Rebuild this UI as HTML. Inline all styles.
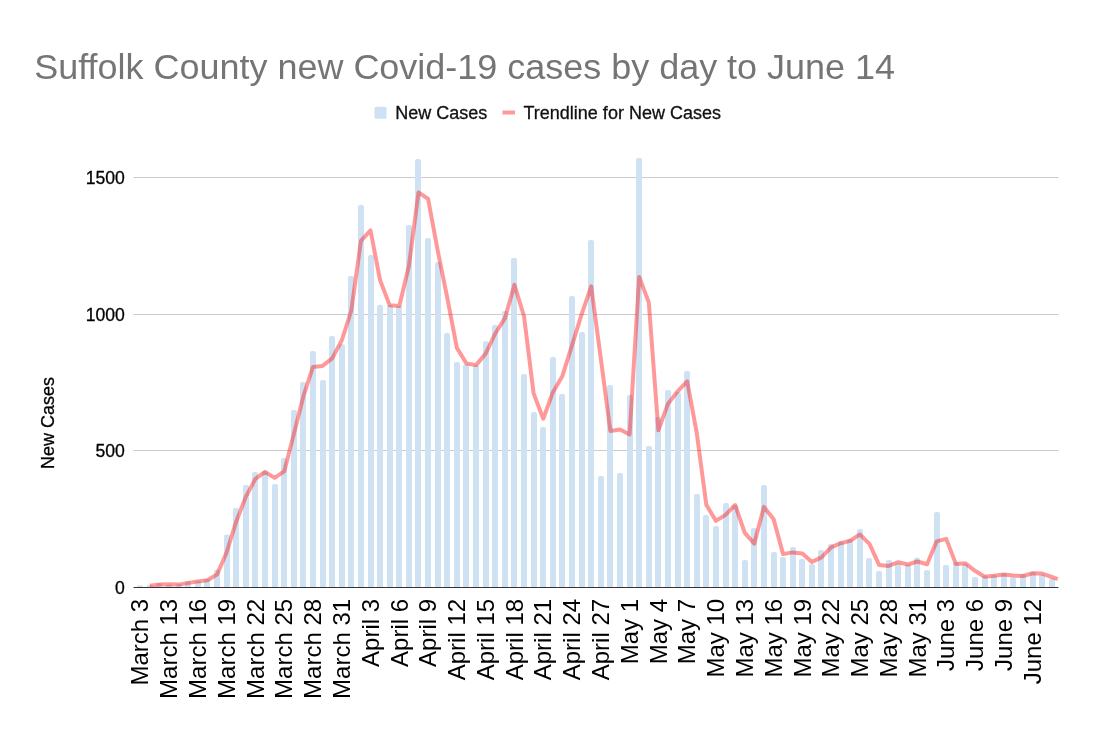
<!DOCTYPE html><html><head><meta charset="utf-8"><title>Chart</title><style>
html,body{margin:0;padding:0;background:#fff;}svg{display:block;will-change:transform;}text{font-family:"Liberation Sans",sans-serif;}
</style></head><body>
<svg width="1095" height="735" viewBox="0 0 1095 735">
<text x="34.3" y="78.6" font-size="35.96" fill="#757575">Suffolk County new Covid-19 cases by day to June 14</text>
<rect x="374.5" y="106.8" width="12" height="12" rx="1.5" fill="#cfe2f3"/>
<text x="395.2" y="118.6" font-size="18" fill="#111111" stroke="#111111" stroke-width="0.3">New Cases</text>
<rect x="502.5" y="110.5" width="12.5" height="4" fill="#ff9999"/>
<text x="523.5" y="118.6" font-size="18" fill="#111111" stroke="#111111" stroke-width="0.3">Trendline for New Cases</text>
<line x1="133.5" x2="1058.5" y1="177.5" y2="177.5" stroke="#cccccc" stroke-width="1"/>
<line x1="133.5" x2="1058.5" y1="314.5" y2="314.5" stroke="#cccccc" stroke-width="1"/>
<line x1="133.5" x2="1058.5" y1="450.5" y2="450.5" stroke="#cccccc" stroke-width="1"/>
<text x="124.9" y="183.8" font-size="17.6" text-anchor="end" fill="#000000" stroke="#000000" stroke-width="0.3">1500</text>
<text x="124.9" y="320.8" font-size="17.6" text-anchor="end" fill="#000000" stroke="#000000" stroke-width="0.3">1000</text>
<text x="124.9" y="456.8" font-size="17.6" text-anchor="end" fill="#000000" stroke="#000000" stroke-width="0.3">500</text>
<text x="124.9" y="593.8" font-size="17.6" text-anchor="end" fill="#000000" stroke="#000000" stroke-width="0.3">0</text>
<text transform="translate(54.3,423.1) rotate(-90)" font-size="18" text-anchor="middle" fill="#000000" stroke="#000000" stroke-width="0.3">New Cases</text>
<g fill="#cfe2f3">
<rect x="137" y="585.6" width="6" height="1.4" rx="0.7" ry="0.7"/>
<rect x="147" y="585.1" width="6" height="1.9" rx="0.9" ry="0.9"/>
<rect x="156" y="583.2" width="6" height="3.8" rx="1.9" ry="1.9"/>
<rect x="166" y="584.4" width="6" height="2.6" rx="1.3" ry="1.3"/>
<rect x="176" y="584.0" width="6" height="3.0" rx="1.5" ry="1.5"/>
<rect x="185" y="581.2" width="6" height="5.8" rx="2.0" ry="2.0"/>
<rect x="185" y="585.0" width="6" height="2"/>
<rect x="195" y="580.8" width="6" height="6.2" rx="2.0" ry="2.0"/>
<rect x="195" y="585.0" width="6" height="2"/>
<rect x="204" y="578.8" width="6" height="8.2" rx="2.0" ry="2.0"/>
<rect x="204" y="585.0" width="6" height="2"/>
<rect x="214" y="569.6" width="6" height="17.4" rx="2.0" ry="2.0"/>
<rect x="214" y="585.0" width="6" height="2"/>
<rect x="224" y="534.6" width="6" height="52.4" rx="2.0" ry="2.0"/>
<rect x="224" y="585.0" width="6" height="2"/>
<rect x="233" y="508.0" width="6" height="79.0" rx="2.0" ry="2.0"/>
<rect x="233" y="585.0" width="6" height="2"/>
<rect x="243" y="485.0" width="6" height="102.0" rx="2.0" ry="2.0"/>
<rect x="243" y="585.0" width="6" height="2"/>
<rect x="252" y="472.0" width="6" height="115.0" rx="2.0" ry="2.0"/>
<rect x="252" y="585.0" width="6" height="2"/>
<rect x="262" y="471.0" width="6" height="116.0" rx="2.0" ry="2.0"/>
<rect x="262" y="585.0" width="6" height="2"/>
<rect x="272" y="484.0" width="6" height="103.0" rx="2.0" ry="2.0"/>
<rect x="272" y="585.0" width="6" height="2"/>
<rect x="281" y="458.0" width="6" height="129.0" rx="2.0" ry="2.0"/>
<rect x="281" y="585.0" width="6" height="2"/>
<rect x="291" y="410.0" width="6" height="177.0" rx="2.0" ry="2.0"/>
<rect x="291" y="585.0" width="6" height="2"/>
<rect x="300" y="382.0" width="6" height="205.0" rx="2.0" ry="2.0"/>
<rect x="300" y="585.0" width="6" height="2"/>
<rect x="310" y="351.0" width="6" height="236.0" rx="2.0" ry="2.0"/>
<rect x="310" y="585.0" width="6" height="2"/>
<rect x="320" y="380.0" width="6" height="207.0" rx="2.0" ry="2.0"/>
<rect x="320" y="585.0" width="6" height="2"/>
<rect x="329" y="336.0" width="6" height="251.0" rx="2.0" ry="2.0"/>
<rect x="329" y="585.0" width="6" height="2"/>
<rect x="339" y="344.2" width="6" height="242.8" rx="2.0" ry="2.0"/>
<rect x="339" y="585.0" width="6" height="2"/>
<rect x="348" y="276.0" width="6" height="311.0" rx="2.0" ry="2.0"/>
<rect x="348" y="585.0" width="6" height="2"/>
<rect x="358" y="205.0" width="6" height="382.0" rx="2.0" ry="2.0"/>
<rect x="358" y="585.0" width="6" height="2"/>
<rect x="368" y="255.0" width="6" height="332.0" rx="2.0" ry="2.0"/>
<rect x="368" y="585.0" width="6" height="2"/>
<rect x="377" y="304.8" width="6" height="282.2" rx="2.0" ry="2.0"/>
<rect x="377" y="585.0" width="6" height="2"/>
<rect x="387" y="305.1" width="6" height="281.9" rx="2.0" ry="2.0"/>
<rect x="387" y="585.0" width="6" height="2"/>
<rect x="396" y="306.1" width="6" height="280.9" rx="2.0" ry="2.0"/>
<rect x="396" y="585.0" width="6" height="2"/>
<rect x="406" y="225.0" width="6" height="362.0" rx="2.0" ry="2.0"/>
<rect x="406" y="585.0" width="6" height="2"/>
<rect x="415" y="159.0" width="6" height="428.0" rx="2.0" ry="2.0"/>
<rect x="415" y="585.0" width="6" height="2"/>
<rect x="425" y="238.0" width="6" height="349.0" rx="2.0" ry="2.0"/>
<rect x="425" y="585.0" width="6" height="2"/>
<rect x="435" y="262.0" width="6" height="325.0" rx="2.0" ry="2.0"/>
<rect x="435" y="585.0" width="6" height="2"/>
<rect x="444" y="333.0" width="6" height="254.0" rx="2.0" ry="2.0"/>
<rect x="444" y="585.0" width="6" height="2"/>
<rect x="454" y="362.0" width="6" height="225.0" rx="2.0" ry="2.0"/>
<rect x="454" y="585.0" width="6" height="2"/>
<rect x="463" y="364.2" width="6" height="222.8" rx="2.0" ry="2.0"/>
<rect x="463" y="585.0" width="6" height="2"/>
<rect x="473" y="365.2" width="6" height="221.8" rx="2.0" ry="2.0"/>
<rect x="473" y="585.0" width="6" height="2"/>
<rect x="483" y="341.2" width="6" height="245.8" rx="2.0" ry="2.0"/>
<rect x="483" y="585.0" width="6" height="2"/>
<rect x="492" y="325.0" width="6" height="262.0" rx="2.0" ry="2.0"/>
<rect x="492" y="585.0" width="6" height="2"/>
<rect x="502" y="311.0" width="6" height="276.0" rx="2.0" ry="2.0"/>
<rect x="502" y="585.0" width="6" height="2"/>
<rect x="511" y="258.0" width="6" height="329.0" rx="2.0" ry="2.0"/>
<rect x="511" y="585.0" width="6" height="2"/>
<rect x="521" y="374.0" width="6" height="213.0" rx="2.0" ry="2.0"/>
<rect x="521" y="585.0" width="6" height="2"/>
<rect x="531" y="412.0" width="6" height="175.0" rx="2.0" ry="2.0"/>
<rect x="531" y="585.0" width="6" height="2"/>
<rect x="540" y="427.0" width="6" height="160.0" rx="2.0" ry="2.0"/>
<rect x="540" y="585.0" width="6" height="2"/>
<rect x="550" y="357.0" width="6" height="230.0" rx="2.0" ry="2.0"/>
<rect x="550" y="585.0" width="6" height="2"/>
<rect x="559" y="394.0" width="6" height="193.0" rx="2.0" ry="2.0"/>
<rect x="559" y="585.0" width="6" height="2"/>
<rect x="569" y="296.0" width="6" height="291.0" rx="2.0" ry="2.0"/>
<rect x="569" y="585.0" width="6" height="2"/>
<rect x="579" y="332.0" width="6" height="255.0" rx="2.0" ry="2.0"/>
<rect x="579" y="585.0" width="6" height="2"/>
<rect x="588" y="240.0" width="6" height="347.0" rx="2.0" ry="2.0"/>
<rect x="588" y="585.0" width="6" height="2"/>
<rect x="598" y="476.0" width="6" height="111.0" rx="2.0" ry="2.0"/>
<rect x="598" y="585.0" width="6" height="2"/>
<rect x="607" y="385.0" width="6" height="202.0" rx="2.0" ry="2.0"/>
<rect x="607" y="585.0" width="6" height="2"/>
<rect x="617" y="473.0" width="6" height="114.0" rx="2.0" ry="2.0"/>
<rect x="617" y="585.0" width="6" height="2"/>
<rect x="627" y="395.0" width="6" height="192.0" rx="2.0" ry="2.0"/>
<rect x="627" y="585.0" width="6" height="2"/>
<rect x="636" y="158.0" width="6" height="429.0" rx="2.0" ry="2.0"/>
<rect x="636" y="585.0" width="6" height="2"/>
<rect x="646" y="446.0" width="6" height="141.0" rx="2.0" ry="2.0"/>
<rect x="646" y="585.0" width="6" height="2"/>
<rect x="655" y="417.0" width="6" height="170.0" rx="2.0" ry="2.0"/>
<rect x="655" y="585.0" width="6" height="2"/>
<rect x="665" y="390.0" width="6" height="197.0" rx="2.0" ry="2.0"/>
<rect x="665" y="585.0" width="6" height="2"/>
<rect x="675" y="392.0" width="6" height="195.0" rx="2.0" ry="2.0"/>
<rect x="675" y="585.0" width="6" height="2"/>
<rect x="684" y="371.0" width="6" height="216.0" rx="2.0" ry="2.0"/>
<rect x="684" y="585.0" width="6" height="2"/>
<rect x="694" y="494.0" width="6" height="93.0" rx="2.0" ry="2.0"/>
<rect x="694" y="585.0" width="6" height="2"/>
<rect x="703" y="515.0" width="6" height="72.0" rx="2.0" ry="2.0"/>
<rect x="703" y="585.0" width="6" height="2"/>
<rect x="713" y="526.0" width="6" height="61.0" rx="2.0" ry="2.0"/>
<rect x="713" y="585.0" width="6" height="2"/>
<rect x="723" y="503.0" width="6" height="84.0" rx="2.0" ry="2.0"/>
<rect x="723" y="585.0" width="6" height="2"/>
<rect x="732" y="505.0" width="6" height="82.0" rx="2.0" ry="2.0"/>
<rect x="732" y="585.0" width="6" height="2"/>
<rect x="742" y="560.0" width="6" height="27.0" rx="2.0" ry="2.0"/>
<rect x="742" y="585.0" width="6" height="2"/>
<rect x="751" y="528.0" width="6" height="59.0" rx="2.0" ry="2.0"/>
<rect x="751" y="585.0" width="6" height="2"/>
<rect x="761" y="485.0" width="6" height="102.0" rx="2.0" ry="2.0"/>
<rect x="761" y="585.0" width="6" height="2"/>
<rect x="771" y="552.0" width="6" height="35.0" rx="2.0" ry="2.0"/>
<rect x="771" y="585.0" width="6" height="2"/>
<rect x="780" y="557.0" width="6" height="30.0" rx="2.0" ry="2.0"/>
<rect x="780" y="585.0" width="6" height="2"/>
<rect x="790" y="547.0" width="6" height="40.0" rx="2.0" ry="2.0"/>
<rect x="790" y="585.0" width="6" height="2"/>
<rect x="799" y="559.0" width="6" height="28.0" rx="2.0" ry="2.0"/>
<rect x="799" y="585.0" width="6" height="2"/>
<rect x="809" y="564.0" width="6" height="23.0" rx="2.0" ry="2.0"/>
<rect x="809" y="585.0" width="6" height="2"/>
<rect x="818" y="550.0" width="6" height="37.0" rx="2.0" ry="2.0"/>
<rect x="818" y="585.0" width="6" height="2"/>
<rect x="828" y="544.0" width="6" height="43.0" rx="2.0" ry="2.0"/>
<rect x="828" y="585.0" width="6" height="2"/>
<rect x="838" y="541.6" width="6" height="45.4" rx="2.0" ry="2.0"/>
<rect x="838" y="585.0" width="6" height="2"/>
<rect x="847" y="539.1" width="6" height="47.9" rx="2.0" ry="2.0"/>
<rect x="847" y="585.0" width="6" height="2"/>
<rect x="857" y="529.0" width="6" height="58.0" rx="2.0" ry="2.0"/>
<rect x="857" y="585.0" width="6" height="2"/>
<rect x="866" y="558.0" width="6" height="29.0" rx="2.0" ry="2.0"/>
<rect x="866" y="585.0" width="6" height="2"/>
<rect x="876" y="571.0" width="6" height="16.0" rx="2.0" ry="2.0"/>
<rect x="876" y="585.0" width="6" height="2"/>
<rect x="886" y="560.0" width="6" height="27.0" rx="2.0" ry="2.0"/>
<rect x="886" y="585.0" width="6" height="2"/>
<rect x="895" y="563.6" width="6" height="23.4" rx="2.0" ry="2.0"/>
<rect x="895" y="585.0" width="6" height="2"/>
<rect x="905" y="564.6" width="6" height="22.4" rx="2.0" ry="2.0"/>
<rect x="905" y="585.0" width="6" height="2"/>
<rect x="914" y="557.6" width="6" height="29.4" rx="2.0" ry="2.0"/>
<rect x="914" y="585.0" width="6" height="2"/>
<rect x="924" y="570.0" width="6" height="17.0" rx="2.0" ry="2.0"/>
<rect x="924" y="585.0" width="6" height="2"/>
<rect x="934" y="512.0" width="6" height="75.0" rx="2.0" ry="2.0"/>
<rect x="934" y="585.0" width="6" height="2"/>
<rect x="943" y="565.0" width="6" height="22.0" rx="2.0" ry="2.0"/>
<rect x="943" y="585.0" width="6" height="2"/>
<rect x="953" y="562.0" width="6" height="25.0" rx="2.0" ry="2.0"/>
<rect x="953" y="585.0" width="6" height="2"/>
<rect x="962" y="563.8" width="6" height="23.2" rx="2.0" ry="2.0"/>
<rect x="962" y="585.0" width="6" height="2"/>
<rect x="972" y="577.0" width="6" height="10.0" rx="2.0" ry="2.0"/>
<rect x="972" y="585.0" width="6" height="2"/>
<rect x="982" y="575.6" width="6" height="11.4" rx="2.0" ry="2.0"/>
<rect x="982" y="585.0" width="6" height="2"/>
<rect x="991" y="574.9" width="6" height="12.1" rx="2.0" ry="2.0"/>
<rect x="991" y="585.0" width="6" height="2"/>
<rect x="1001" y="573.1" width="6" height="13.9" rx="2.0" ry="2.0"/>
<rect x="1001" y="585.0" width="6" height="2"/>
<rect x="1010" y="577.2" width="6" height="9.8" rx="2.0" ry="2.0"/>
<rect x="1010" y="585.0" width="6" height="2"/>
<rect x="1020" y="573.9" width="6" height="13.1" rx="2.0" ry="2.0"/>
<rect x="1020" y="585.0" width="6" height="2"/>
<rect x="1030" y="571.8" width="6" height="15.2" rx="2.0" ry="2.0"/>
<rect x="1030" y="585.0" width="6" height="2"/>
<rect x="1039" y="574.6" width="6" height="12.4" rx="2.0" ry="2.0"/>
<rect x="1039" y="585.0" width="6" height="2"/>
<rect x="1049" y="578.6" width="6" height="8.4" rx="2.0" ry="2.0"/>
<rect x="1049" y="585.0" width="6" height="2"/>
</g>
<line x1="133.5" x2="1058.5" y1="587.5" y2="587.5" stroke="#333333" stroke-width="1"/>
<path d="M149.83,585.75 L159.42,584.55 L169.02,584.20 L178.61,584.60 L188.21,583.00 L197.80,581.40 L207.40,580.20 L216.99,574.60 L226.59,552.50 L236.18,521.70 L245.78,496.90 L255.37,478.90 L264.97,471.90 L274.56,477.90 L284.16,471.40 L293.75,434.40 L303.35,396.40 L312.94,366.90 L322.54,365.90 L332.13,358.40 L341.73,340.50 L351.32,310.50 L360.92,240.90 L370.51,230.40 L380.11,280.30 L389.71,305.35 L399.30,306.00 L408.90,265.95 L418.49,192.40 L428.09,198.90 L437.68,250.40 L447.28,297.90 L456.87,347.90 L466.47,363.50 L476.06,365.10 L485.66,353.60 L495.25,333.50 L504.85,318.40 L514.44,284.90 L524.04,316.40 L533.63,393.40 L543.23,418.70 L552.82,392.40 L562.42,375.90 L572.01,345.40 L581.61,314.40 L591.20,286.40 L600.80,358.40 L610.39,430.90 L619.99,429.40 L629.59,434.40 L639.18,276.90 L648.78,302.40 L658.37,430.30 L667.97,403.90 L677.56,391.40 L687.16,381.30 L696.75,432.90 L706.35,504.90 L715.94,520.90 L725.54,514.90 L735.13,505.00 L744.73,532.90 L754.32,543.60 L763.92,506.90 L773.51,518.90 L783.11,554.10 L792.70,552.40 L802.30,553.40 L811.89,561.90 L821.49,557.40 L831.08,547.40 L840.68,543.20 L850.27,540.75 L859.87,534.45 L869.47,543.90 L879.06,564.90 L888.66,565.90 L898.25,562.20 L907.85,564.50 L917.44,561.50 L927.04,564.20 L936.63,541.40 L946.23,538.90 L955.82,563.90 L965.42,563.30 L975.01,570.80 L984.61,576.70 L994.20,575.65 L1003.80,574.40 L1013.39,575.55 L1022.99,575.95 L1032.58,573.25 L1042.18,573.60 L1051.77,577.00 L1057.77,579.13" fill="none" stroke="#ff0000" stroke-opacity="0.4" stroke-width="4" stroke-linejoin="round" stroke-linecap="butt"/>
<text transform="translate(148.43,598.9) rotate(-90)" font-size="24" text-anchor="end" fill="#000000">March 3</text>
<text transform="translate(177.22,598.9) rotate(-90)" font-size="24" text-anchor="end" fill="#000000">March 13</text>
<text transform="translate(206.00,598.9) rotate(-90)" font-size="24" text-anchor="end" fill="#000000">March 16</text>
<text transform="translate(234.79,598.9) rotate(-90)" font-size="24" text-anchor="end" fill="#000000">March 19</text>
<text transform="translate(263.57,598.9) rotate(-90)" font-size="24" text-anchor="end" fill="#000000">March 22</text>
<text transform="translate(292.36,598.9) rotate(-90)" font-size="24" text-anchor="end" fill="#000000">March 25</text>
<text transform="translate(321.14,598.9) rotate(-90)" font-size="24" text-anchor="end" fill="#000000">March 28</text>
<text transform="translate(349.93,598.9) rotate(-90)" font-size="24" text-anchor="end" fill="#000000">March 31</text>
<text transform="translate(378.71,598.9) rotate(-90)" font-size="24" text-anchor="end" fill="#000000">April 3</text>
<text transform="translate(407.50,598.9) rotate(-90)" font-size="24" text-anchor="end" fill="#000000">April 6</text>
<text transform="translate(436.29,598.9) rotate(-90)" font-size="24" text-anchor="end" fill="#000000">April 9</text>
<text transform="translate(465.07,598.9) rotate(-90)" font-size="24" text-anchor="end" fill="#000000">April 12</text>
<text transform="translate(493.86,598.9) rotate(-90)" font-size="24" text-anchor="end" fill="#000000">April 15</text>
<text transform="translate(522.64,598.9) rotate(-90)" font-size="24" text-anchor="end" fill="#000000">April 18</text>
<text transform="translate(551.43,598.9) rotate(-90)" font-size="24" text-anchor="end" fill="#000000">April 21</text>
<text transform="translate(580.21,598.9) rotate(-90)" font-size="24" text-anchor="end" fill="#000000">April 24</text>
<text transform="translate(609.00,598.9) rotate(-90)" font-size="24" text-anchor="end" fill="#000000">April 27</text>
<text transform="translate(637.79,598.9) rotate(-90)" font-size="24" text-anchor="end" fill="#000000">May 1</text>
<text transform="translate(666.57,598.9) rotate(-90)" font-size="24" text-anchor="end" fill="#000000">May 4</text>
<text transform="translate(695.36,598.9) rotate(-90)" font-size="24" text-anchor="end" fill="#000000">May 7</text>
<text transform="translate(724.14,598.9) rotate(-90)" font-size="24" text-anchor="end" fill="#000000">May 10</text>
<text transform="translate(752.93,598.9) rotate(-90)" font-size="24" text-anchor="end" fill="#000000">May 13</text>
<text transform="translate(781.71,598.9) rotate(-90)" font-size="24" text-anchor="end" fill="#000000">May 16</text>
<text transform="translate(810.50,598.9) rotate(-90)" font-size="24" text-anchor="end" fill="#000000">May 19</text>
<text transform="translate(839.28,598.9) rotate(-90)" font-size="24" text-anchor="end" fill="#000000">May 22</text>
<text transform="translate(868.07,598.9) rotate(-90)" font-size="24" text-anchor="end" fill="#000000">May 25</text>
<text transform="translate(896.86,598.9) rotate(-90)" font-size="24" text-anchor="end" fill="#000000">May 28</text>
<text transform="translate(925.64,598.9) rotate(-90)" font-size="24" text-anchor="end" fill="#000000">May 31</text>
<text transform="translate(954.43,598.9) rotate(-90)" font-size="24" text-anchor="end" fill="#000000">June 3</text>
<text transform="translate(983.21,598.9) rotate(-90)" font-size="24" text-anchor="end" fill="#000000">June 6</text>
<text transform="translate(1012.00,598.9) rotate(-90)" font-size="24" text-anchor="end" fill="#000000">June 9</text>
<text transform="translate(1040.78,598.9) rotate(-90)" font-size="24" text-anchor="end" fill="#000000">June 12</text>
</svg></body></html>
